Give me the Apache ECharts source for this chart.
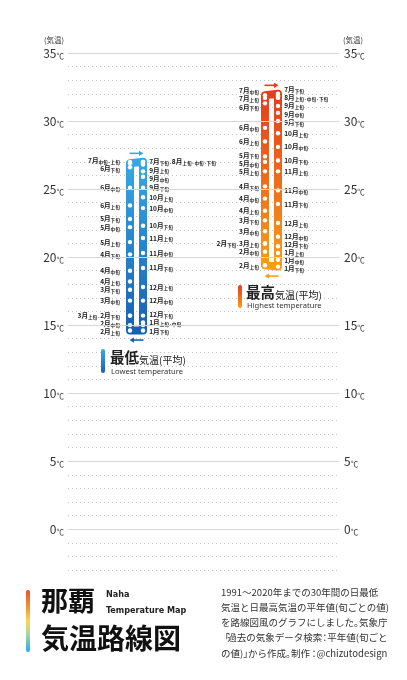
<!DOCTYPE html>
<html><head><meta charset="utf-8">
<script src="https://cdn.jsdelivr.net/npm/echarts@6/dist/echarts.min.js"></script>
<style>html,body{margin:0;padding:0;background:#fff}#c{width:407px;height:680px}</style>
</head><body><div id="c"></div>
<script>
// ---------- data ----------
const months = ['1月','2月','3月','4月','5月','6月','7月','8月','9月','10月','11月','12月'];
const parts = ['上旬','中旬','下旬'];
const decades = months.flatMap(m => parts.map(p => m + p));

// 日最低気温 平年値 (旬) 1月上旬 … 12月下旬
const lowTemp = [15.2,15.0,14.6, 14.6,15.0,15.7, 15.7,16.8,17.6, 18.2,19.0,20.2,
                 21.1,22.2,22.8, 23.8,25.1,26.6, 26.9,27.0,27.0, 27.0,26.9,26.8,
                 26.3,25.9,25.1, 24.4,23.6,22.3, 21.4,20.3,19.2, 17.8,16.8,15.7];
// 日最高気温 平年値 (旬)
const highTemp = [20.3,19.8,19.3, 19.4,20.4,21.0, 21.0,21.9,22.7, 23.4,24.3,25.2,
                  26.3,27.0,27.4, 28.5,29.5,31.3, 31.7,31.9,32.0, 31.9,31.8,31.7,
                  31.1,30.6,30.0, 29.1,28.1,27.1, 26.3,24.9,23.9, 22.5,21.5,20.8];

// station labels (grouped stations share one label)
const lowLabels = ['1月上旬·中旬','','1月下旬', '2月上旬','2月中旬','3月上旬·2月下旬', '','3月中旬','3月下旬',
  '4月上旬','4月中旬','4月下旬', '5月上旬','5月中旬','5月下旬', '6月上旬','6月中旬','6月下旬',
  '','7月中旬·上旬','7月下旬·8月上旬·中旬·下旬', '','','', '9月上旬','9月中旬','9月下旬',
  '10月上旬','10月中旬','10月下旬', '11月上旬','11月中旬','11月下旬', '12月上旬','12月中旬','12月下旬'];
const highLabels = ['1月上旬','1月中旬','1月下旬', '2月上旬','2月中旬','2月下旬·3月上旬', '','3月中旬','3月下旬',
  '4月上旬','4月中旬','4月下旬', '5月上旬','5月中旬','5月下旬', '6月上旬','6月中旬','6月下旬',
  '7月上旬','7月中旬','7月下旬', '8月上旬·中旬·下旬','','', '9月上旬','9月中旬','9月下旬',
  '10月上旬','10月中旬','10月下旬', '11月上旬','11月中旬','11月下旬', '12月上旬','12月中旬','12月下旬'];

const yTicks = [0,5,10,15,20,25,30,35];

const descText = '1991〜2020年までの30年間の日最低\n気温と日最高気温の平年値(旬ごとの値)\nを路線図風のグラフにしました。気象庁\n「過去の気象データ検索：平年値(旬ごと\nの値)」から作成。制作：@chizutodesign';

// ---------- layout ----------
const FONT = "'Noto Sans CJK JP','Noto Sans',sans-serif";
const LEG = { low: [22.88, 27.68], high: [72.69, 77.49] };
const LOW_C = ['#38a9e4', '#1660b3'];
const HIGH_C = ['#e63a1e', '#f5a018'];
const LEFT = []; for (let i = 3; i <= 19; i++) LEFT.push(i);
const RIGHT = []; for (let i = 20; i < 36; i++) RIGHT.push(i); RIGHT.push(0, 1, 2);

function fmt(s) {
  return s.split(/(上旬|中旬|下旬|·)/).filter(Boolean)
    .map(t => /^(上旬|中旬|下旬)$/.test(t) ? '{s|' + t + '}' : (t === '·' ? '{d|·}' : '{m|' + t + '}')).join('');
}
const RICH = {
  m: { fontSize: 6.6, fontWeight: 'bold', color: '#1a1a1a', fontFamily: FONT, lineHeight: 8 },
  s: { fontSize: 4.6, fontWeight: 'bold', color: '#1a1a1a', fontFamily: FONT, lineHeight: 6.5, verticalAlign: 'bottom' },
  d: { fontSize: 5, fontWeight: 'bold', color: '#1a1a1a', fontFamily: FONT, lineHeight: 7, verticalAlign: 'bottom' }
};
function lg(c) { return { type: 'linear', x: 0, y: 0, x2: 0, y2: 1, colorStops: [{ offset: 0, color: c[0] }, { offset: 1, color: c[1] }] }; }

function loopSeries(temps, labels, xs, colors, dist, offsets) {
  const data = [];
  const add = (i, side) => {
    const item = { value: [side === 'L' ? xs[0] : xs[1], temps[i]], name: decades[i] };
    if (labels[i]) item.label = {
      show: true, position: side === 'L' ? 'left' : 'right',
      distance: side === 'L' ? dist[0] : dist[1],
      formatter: fmt(labels[i]), offset: [0, (offsets && offsets[i]) || 0]
    };
    data.push(item);
  };
  LEFT.forEach(i => add(i, 'L'));
  RIGHT.forEach(i => add(i, 'R'));
  data.push({ value: [xs[0], temps[LEFT[0]]], symbol: 'none' });
  return {
    type: 'line', data, z: 3, silent: true, animation: false,
    symbol: 'circle', symbolSize: 4.4,
    itemStyle: { color: '#fff', borderWidth: 0 },
    lineStyle: { width: 8, color: lg(colors), join: 'round', cap: 'round' },
    label: { show: false, rich: RICH },
    emphasis: { disabled: true }
  };
}

const axisRich = {
  n: { fontSize: 12, color: '#333', fontFamily: FONT, lineHeight: 14 },
  u: { fontSize: 7.5, color: '#333', fontFamily: FONT, lineHeight: 11, verticalAlign: 'bottom' }
};
const labFmt = v => yTicks.indexOf(v) >= 0 ? '{n|' + v + '}{u|℃}' : '';

function buildSeries(offLow, offHigh) {
  return [
    { type: 'line', data: [], z: 1, silent: true,
      markLine: { silent: true, symbol: 'none', animation: false, label: { show: false },
        lineStyle: { type: 'solid', color: '#d6d6d6', width: 1 },
        data: yTicks.map(v => ({ yAxis: v })) } },
    loopSeries(lowTemp, lowLabels, LEG.low, LOW_C, [8, 4], offLow),
    loopSeries(highTemp, highLabels, LEG.high, HIGH_C, [4, 4], offHigh)
  ];
}

const chart = echarts.init(document.getElementById('c'));
chart.setOption({
  animation: false,
  backgroundColor: '#fff',
  grid: { left: 68, right: 68, top: 53, bottom: 110 },
  xAxis: { type: 'value', min: 0, max: 100, show: false },
  yAxis: [
    { type: 'value', min: -3, max: 35, interval: 1, position: 'left',
      axisLine: { show: false }, axisTick: { show: false },
      axisLabel: { margin: 4, formatter: labFmt, rich: axisRich },
      splitLine: { show: true, lineStyle: { type: [1, 3], color: '#c4c4c4', width: 1 } } },
    { type: 'value', min: -3, max: 35, interval: 1, position: 'right',
      axisLine: { show: false }, axisTick: { show: false },
      axisLabel: { margin: 5, formatter: labFmt, rich: axisRich },
      splitLine: { show: false } }
  ],
  series: buildSeries(null, null)
});

// ---------- label de-overlap & graphics ----------
const px = (x, y) => chart.convertToPixel({ xAxisIndex: 0, yAxisIndex: 0 }, [x, y]);
function spread(temps, labels, xs) {
  const off = {};
  [[LEFT, xs[0]], [RIGHT, xs[1]]].forEach(([idx, x]) => {
    const items = idx.filter(i => labels[i]).map(i => ({ i, py: px(x, temps[i])[1] }));
    items.sort((a, b) => a.py - b.py);
    const y = items.map(it => it.py), gap = 8.2;
    for (let k = 0; k < 300; k++) {
      let moved = false;
      for (let j = 1; j < y.length; j++) {
        const d = y[j] - y[j - 1];
        if (d < gap - 0.01) { const s = (gap - d) / 2; y[j] += s; y[j - 1] -= s; moved = true; }
      }
      if (!moved) break;
    }
    items.forEach((it, j) => off[it.i] = y[j] - it.py);
  });
  return off;
}
function arrow(xFrom, xTo, y, color) {
  const dir = Math.sign(xTo - xFrom);
  return { type: 'group', silent: true, children: [
    { type: 'line', shape: { x1: xFrom, y1: y, x2: xTo - dir * 2, y2: y }, style: { stroke: color, lineWidth: 1.6 } },
    { type: 'polygon', shape: { points: [[xTo, y], [xTo - dir * 4.5, y - 2.6], [xTo - dir * 4.5, y + 2.6]] }, style: { fill: color } }
  ] };
}
function loopArrows(temps, xs, cTop, cBot) {
  const xl = px(xs[0], 0)[0], xr = px(xs[1], 0)[0], xc = (xl + xr) / 2;
  const topY = Math.min(px(0, temps[19])[1], px(0, temps[20])[1]) - 8.5;
  const botY = Math.max(px(0, temps[3])[1], px(0, temps[2])[1]) + 9.5;
  return [arrow(xc - 7, xc + 7, topY, cTop), arrow(xc + 7, xc - 7, botY, cBot)];
}
const T = (x, y, text, style) => ({ type: 'text', x, y, silent: true, style: Object.assign({ text, fill: '#222', fontFamily: FONT }, style) });
const LEGRICH = {
  b: { fontSize: 14.5, fontWeight: 'bold', fill: '#222', fontFamily: FONT, lineHeight: 17 },
  n: { fontSize: 10, fill: '#222', fontFamily: FONT, lineHeight: 15, verticalAlign: 'bottom' }
};
// proportional CJK punctuation for the note block
const DS = { fontSize: 9.5, fill: '#333', fontFamily: FONT, lineHeight: 15.2 };
const DESC_RICH = {
  t: DS,
  a: Object.assign({}, DS, { width: 4.9, align: 'left' }),
  b: Object.assign({}, DS, { width: 4.9, align: 'right' }),
  c: Object.assign({}, DS, { width: 4.9, align: 'center' })
};
function descFmt(s) {
  return s.split('\n').map(line => line.split(/([。」「：])/).filter(Boolean).map(t =>
    t === '。' || t === '」' ? '{a|' + t + '}' : t === '「' ? '{b|' + t + '}' : t === '：' ? '{c|' + t + '}' : '{t|' + t + '}').join('')).join('\n');
}

chart.setOption({
  series: buildSeries(spread(lowTemp, lowLabels, LEG.low), spread(highTemp, highLabels, LEG.high)),
  graphic: [
    ...loopArrows(lowTemp, LEG.low, LOW_C[0], LOW_C[1]),
    ...loopArrows(highTemp, LEG.high, HIGH_C[0], HIGH_C[1]),
    T(54, 40, '(気温)', { fontSize: 7.5, align: 'center', verticalAlign: 'middle', fill: '#333' }),
    T(353, 40, '(気温)', { fontSize: 7.5, align: 'center', verticalAlign: 'middle', fill: '#333' }),
    // legends
    { type: 'rect', shape: { x: 101, y: 349, width: 4, height: 24, r: 2 }, style: { fill: lg(LOW_C) }, silent: true },
    T(110, 357, '{b|最低}{n|気温(平均)}', { verticalAlign: 'middle', rich: LEGRICH }),
    T(111, 371.5, 'Lowest temperature', { fontSize: 7.6, verticalAlign: 'middle', fill: '#333', fontFamily: "'Noto Sans',sans-serif" }),
    { type: 'rect', shape: { x: 238, y: 285, width: 4, height: 23, r: 2 }, style: { fill: lg(HIGH_C) }, silent: true },
    T(246, 292, '{b|最高}{n|気温(平均)}', { verticalAlign: 'middle', rich: LEGRICH }),
    T(247, 306, 'Highest temperature', { fontSize: 7.6, verticalAlign: 'middle', fill: '#333', fontFamily: "'Noto Sans',sans-serif" }),
    // title block
    { type: 'rect', shape: { x: 26, y: 590, width: 4, height: 62, r: 2 }, silent: true,
      style: { fill: { type: 'linear', x: 0, y: 0, x2: 0, y2: 1, colorStops: [
        { offset: 0, color: '#e8502a' }, { offset: 0.3, color: '#f39a3a' }, { offset: 0.5, color: '#f6d85a' },
        { offset: 0.72, color: '#a6d6a4' }, { offset: 1, color: '#1eaee8' }] } } },
    T(41, 601, '那覇', { fontSize: 27, fontWeight: 'bold', verticalAlign: 'middle', fill: '#111' }),
    T(41, 638, '気温路線図', { fontSize: 28, fontWeight: 'bold', verticalAlign: 'middle', fill: '#111' }),
    T(106, 595, 'Naha', { fontSize: 9, fontWeight: 'bold', verticalAlign: 'middle', fill: '#222', fontFamily: "'DejaVu Sans Condensed','Liberation Sans Narrow',sans-serif" }),
    T(106, 611, 'Temperature Map', { fontSize: 9, fontWeight: 'bold', verticalAlign: 'middle', fill: '#222', fontFamily: "'DejaVu Sans Condensed','Liberation Sans Narrow',sans-serif" }),
    T(221, 584.5, descFmt(descText), { verticalAlign: 'top', rich: DESC_RICH, fontSize: 9.5, fill: '#333' })
  ]
});
</script>
</body></html>
